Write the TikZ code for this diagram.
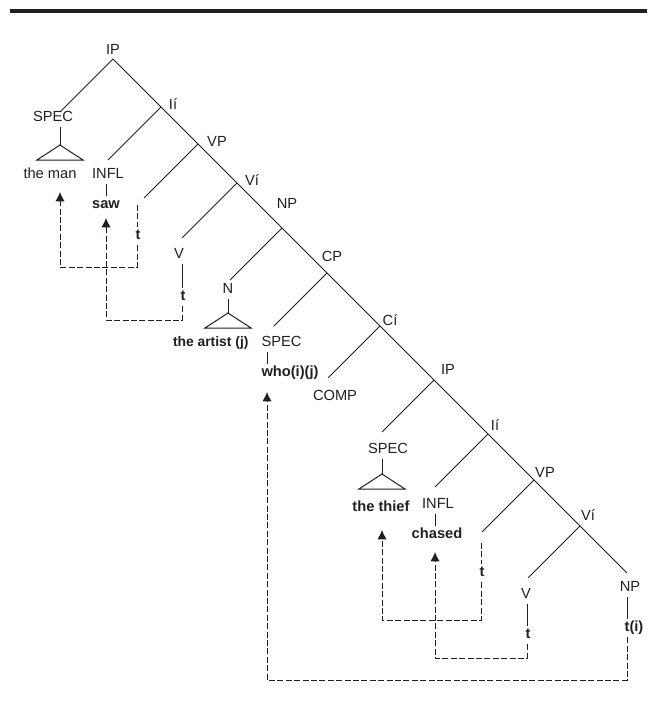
\documentclass[tikz,border=0pt]{standalone}
\usepackage{fontspec}
\setmainfont{Liberation Sans}
\usepackage{tikz}
\usetikzlibrary{arrows.meta,calc}
\definecolor{ink}{HTML}{231F20}

\begin{document}
\begin{tikzpicture}[x=0.75pt, y=-0.75pt, line width=0.75pt, color=ink,
  font=\fontsize{11}{13}\selectfont,
  catlbl/.style={inner sep=1.5pt, text height=7.9pt, text depth=2.3pt},
  leaf/.style={catlbl, font=\fontsize{11}{13}\selectfont\bfseries},
  trace/.style={dash pattern=on 4.5pt off 1.8pt},
  mvarrow/.style={trace, -{Latex[length=7pt, width=7pt]}}]
  \useasboundingbox (0,0) rectangle (647,713);
  \fill (10,9) rectangle (647,13);

  \coordinate (ip1) at (113,59);
  \coordinate (ibar1) at (161,107);
  \coordinate (vp1) at (198,144);
  \coordinate (vbar1) at (237,183);
  \coordinate (np1) at (282,228);
  \coordinate (cp) at (327,273);
  \coordinate (cbar) at (380,326);
  \coordinate (ip2) at (434,380);
  \coordinate (ibar2) at (488,434);
  \coordinate (vp2) at (534,480);
  \coordinate (vbar2) at (580,526);
  \coordinate (np2end) at (627,573);

  \coordinate (spec1end) at (60,112);
  \coordinate (infl1end) at (108,160);
  \coordinate (t1end) at (144,198);
  \coordinate (v1end) at (182,238);
  \coordinate (n1end) at (230,280);
  \coordinate (spec2end) at (274,326);
  \coordinate (compend) at (328,378);
  \coordinate (spec3end) at (382,432);
  \coordinate (infl2end) at (435,487);
  \coordinate (t3end) at (482,532);
  \coordinate (v2end) at (528,578);

  \node[catlbl] (ipA) at (113,51) {IP};
  \node[catlbl] (ibarA) at (173,106) {Ií};
  \node[catlbl] (vpA) at (217,143) {VP};
  \node[catlbl] (vbarA) at (252,182) {Ví};
  \node[catlbl] (npA) at (287,205) {NP};
  \node[catlbl] (cpB) at (332,258) {CP};
  \node[catlbl] (cbarB) at (390,322) {Cí};
  \node[catlbl] (ipC) at (448,371) {IP};
  \node[catlbl] (ibarC) at (495,427) {Ií};
  \node[catlbl] (vpC) at (545,474) {VP};
  \node[catlbl] (vbarC) at (588,517) {Ví};

  \draw (ip1) -- (ibar1) -- (vp1) -- (vbar1) -- (np1) -- (cp) -- (cbar)
    -- (ip2) -- (ibar2) -- (vp2) -- (vbar2) -- (np2end);
  \draw (ip1) -- (spec1end);
  \draw (ibar1) -- (infl1end);
  \draw (vp1) -- (t1end);
  \draw (vbar1) -- (v1end);
  \draw (np1) -- (n1end);
  \draw (cp) -- (spec2end);
  \draw (cbar) -- (compend);
  \draw (ip2) -- (spec3end);
  \draw (ibar2) -- (infl2end);
  \draw (vp2) -- (t3end);
  \draw (vbar2) -- (v2end);

  % matrix clause
  \node[catlbl] (specA) at (53,118) {SPEC};
  \coordinate (triA) at (60,145);
  \draw (specA.south -| triA) -- (triA);
  \draw (triA) -- ++(-23,15) -- ++(46,0) -- cycle;
  \node[catlbl] (man) at (50,175) {the man};
  \node[catlbl] (inflA) at (108,175) {INFL};
  \node[leaf] (saw) at (106,205) {saw};
  \draw (inflA.south -| saw) -- (saw);
  \node[leaf] (tA) at (138,236) {t};
  \node[catlbl] (vA) at (179,255) {V};
  \node[leaf] (tB) at (183,297) {t};
  \draw (vA.south -| v1end) -- (tB.north -| v1end);

  % relative clause
  \node[catlbl] (nA) at (228,290) {N};
  \coordinate (triB) at (228,313);
  \draw (nA) -- (triB);
  \draw (triB) -- ++(-23,15) -- ++(46,0) -- cycle;
  \node[leaf, anchor=east, font=\fontsize{10.4}{13}\selectfont\bfseries] (artist) at (251,343) {the artist (j)};
  \node[catlbl, anchor=west] (specB) at (259,343) {SPEC};
  \node[leaf, anchor=west] (who) at (259,373) {who(i)(j)};
  \draw (specB.south -| 267,0) -- (who.north -| 267,0);
  \node[catlbl] (comp) at (335,397) {COMP};
  \node[catlbl] (specC) at (388,450) {SPEC};
  \coordinate (triC) at (382,474);
  \draw (specC.south -| triC) -- (triC);
  \draw (triC) -- ++(-23,15) -- ++(46,0) -- cycle;
  \node[leaf] (thief) at (381,508) {the thief};
  \node[catlbl] (inflB) at (438,505) {INFL};
  \node[leaf] (chased) at (437,535) {chased};
  \draw (inflB.south -| infl2end) -- (chased.north -| infl2end);
  \node[leaf] (tC) at (482,573) {t};
  \node[catlbl] (vB) at (526,595) {V};
  \node[leaf] (tD) at (528,635) {t};
  \draw (vB.south -| 527,0) -- (tD.north -| 527,0);
  \node[catlbl] (npB) at (630,588) {NP};
  \node[leaf] (ti) at (634,628) {t(i)};
  \draw (npB.south -| np2end) -- (ti.north -| np2end);

  % movement
  \coordinate (tAtop) at (137,205);
  \coordinate (tAturn) at (137,267);
  \coordinate (mantip) at (60,192);
  \draw[trace] (tAtop) -- (tA.north -| tAtop);
  \draw[mvarrow] (tA.south -| tAturn) -- (tAturn) -| (mantip);
  \coordinate (tBturn) at (182,320);
  \coordinate (sawtip) at (106,218);
  \draw[mvarrow] (tB.south -| tBturn) -- (tBturn) -| (sawtip);
  \coordinate (tCtop) at (481,543);
  \coordinate (tCturn) at (481,620);
  \coordinate (thieftip) at (382,530);
  \draw[trace] (tCtop) -- (tC.north -| tCtop);
  \draw[mvarrow] (tC.south -| tCturn) -- (tCturn) -| (thieftip);
  \coordinate (tDturn) at (527,658);
  \coordinate (chasedtip) at (435,552);
  \draw[mvarrow] (tD.south -| tDturn) -- (tDturn) -| (chasedtip);
  \coordinate (titurn) at (627,680);
  \coordinate (whotip) at (267,392);
  \draw[mvarrow] (ti.south -| titurn) -- (titurn) -| (whotip);
\end{tikzpicture}
\end{document}
